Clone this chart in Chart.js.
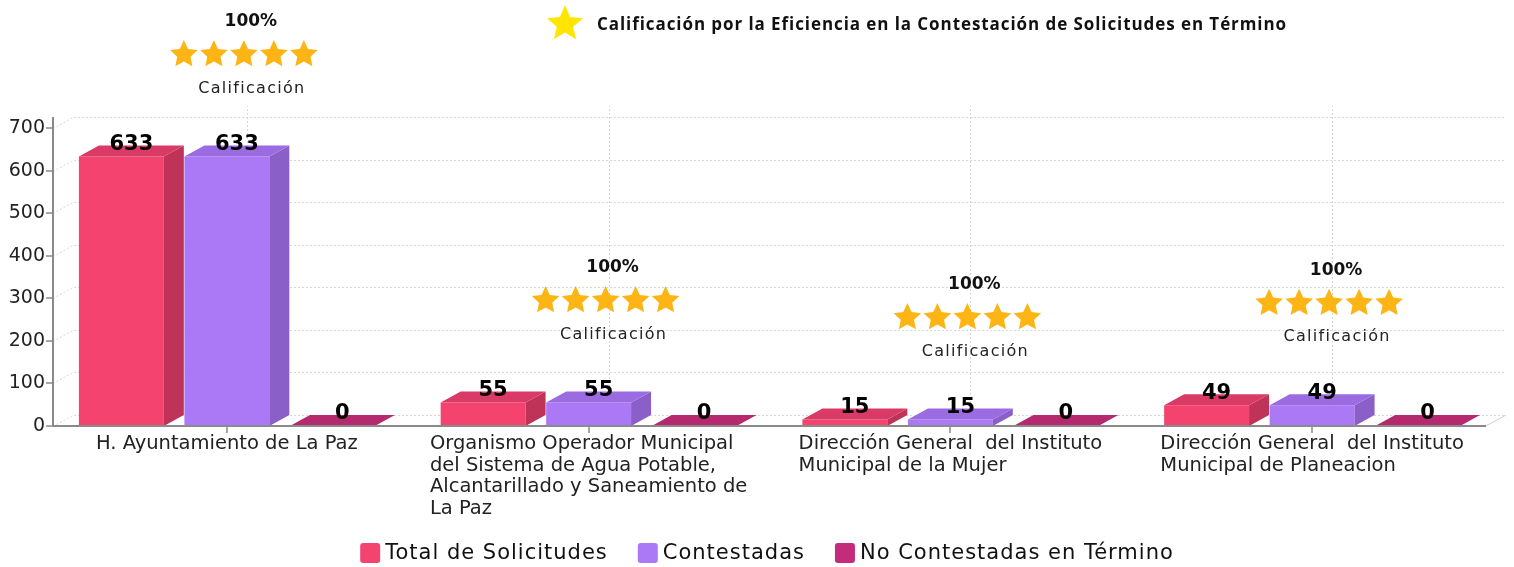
<!DOCTYPE html>
<html>
<head>
<meta charset="utf-8">
<script src="https://cdn.jsdelivr.net/npm/chart.js@4.4.1/dist/chart.umd.min.js"></script>
<style>
html,body{margin:0;padding:0;background:#fff;overflow:hidden}
#wrap{width:1514px;height:567px;position:relative}
</style>
</head>
<body>
<div id="wrap"><canvas id="c"></canvas></div>
<script>
// ---------- data ----------
const categories = [
  ["H. Ayuntamiento de La Paz"],
  ["Organismo Operador Municipal", "del Sistema de Agua Potable,", "Alcantarillado y Saneamiento de", "La Paz"],
  ["Dirección General  del Instituto", "Municipal de la Mujer"],
  ["Dirección General  del Instituto", "Municipal de Planeacion"]
];
const seriesNames = ["Total de Solicitudes", "Contestadas", "No Contestadas en Término"];
const totalSolicitudes = [633, 55, 15, 49];
const contestadas = [633, 55, 15, 49];
const noContestadas = [0, 0, 0, 0];
const ratingPercent = ["100%", "100%", "100%", "100%"];
const ratingStars = [5, 5, 5, 5];
const ratingCaption = "Calificación";
const titleText = "Calificación por la Eficiencia en la Contestación de Solicitudes en Término";
const yMin = 0, yMax = 726, yStep = 100;

// ---------- styles ----------
const FONT = '"DejaVu Sans", "Noto Sans", sans-serif';
const faces = [
  {front: '#F4436F', top: '#DA3A66', side: '#C03358', legend: '#F4436F'},
  {front: '#AB78F6', top: '#9B6BE2', side: '#8B5FC8', legend: '#AB78F6'},
  {front: '#C42B7A', top: '#B5296F', side: '#A0245F', legend: '#C42B7A'}
];
const DX = 20, DY = -11, INSET = 7;

function starPath(ctx, cx, cy, R, r) {
  ctx.beginPath();
  for (let k = 0; k < 10; k++) {
    const rad = k % 2 === 0 ? R : r;
    const ang = -Math.PI / 2 + k * Math.PI / 5;
    const px = cx + rad * Math.cos(ang), py = cy + rad * Math.sin(ang);
    if (k === 0) ctx.moveTo(px, py); else ctx.lineTo(px, py);
  }
  ctx.closePath();
}

const threeD = {
  id: 'threeD',
  beforeDatasetsDraw(chart) {
    const {ctx, chartArea: a, scales: {x, y}} = chart;
    const axL = a.left + INSET, axR = a.right - INSET, y0 = y.getPixelForValue(0);
    ctx.save();
    ctx.strokeStyle = '#d6d6d6';
    ctx.lineWidth = 1;
    ctx.setLineDash([2, 2]);
    y.ticks.forEach(t => {
      const py = Math.round(y.getPixelForValue(t.value)) + 0.5;
      ctx.beginPath();
      ctx.moveTo(axL, py);
      ctx.lineTo(axL + DX, py + DY);
      ctx.lineTo(axR + DX, py + DY);
      ctx.stroke();
    });
    x.ticks.forEach((t, i) => {
      const px = Math.round(x.getPixelForTick(i)) + 0.5 + DX;
      ctx.beginPath();
      ctx.moveTo(px, y0 + DY);
      ctx.lineTo(px, a.top + DY);
      ctx.stroke();
    });
    ctx.setLineDash([]);
    ctx.strokeStyle = '#cfcfcf';
    ctx.beginPath();
    ctx.moveTo(axR, y0);
    ctx.lineTo(axR + DX, y0 + DY);
    ctx.stroke();
    ctx.restore();
  },
  afterDatasetsDraw(chart) {
    const {ctx, chartArea: a, scales: {x, y}} = chart;
    const axL = a.left + INSET, axR = a.right - INSET, y0 = y.getPixelForValue(0);
    ctx.save();
    const labels = [];
    chart.data.datasets.forEach((ds, di) => {
      const meta = chart.getDatasetMeta(di);
      meta.data.forEach((el, i) => {
        const p = el.getProps(['x', 'y', 'base', 'width'], true);
        const l = p.x - p.width / 2, r = p.x + p.width / 2;
        const top = Math.min(p.y, p.base), base = Math.max(p.y, p.base);
        ctx.fillStyle = faces[di].side;
        ctx.beginPath();
        ctx.moveTo(r, top); ctx.lineTo(r + DX, top + DY);
        ctx.lineTo(r + DX, base + DY); ctx.lineTo(r, base);
        ctx.closePath(); ctx.fill();
        ctx.fillStyle = faces[di].top;
        ctx.beginPath();
        ctx.moveTo(l, top); ctx.lineTo(l + DX, top + DY);
        ctx.lineTo(r + DX, top + DY); ctx.lineTo(r, top);
        ctx.closePath(); ctx.fill();
        labels.push({x: p.x + DX / 2, y: top + DY - 1, v: ds.data[i]});
      });
    });
    ctx.strokeStyle = '#8a8a8a';
    ctx.lineWidth = 2;
    ctx.beginPath();
    ctx.moveTo(axL, a.top); ctx.lineTo(axL, y0 + 1);
    ctx.moveTo(axL - 1, y0); ctx.lineTo(axR, y0);
    ctx.stroke();
    ctx.lineWidth = 1.5;
    y.ticks.forEach(t => {
      const py = Math.round(y.getPixelForValue(t.value));
      ctx.beginPath(); ctx.moveTo(axL - 7, py); ctx.lineTo(axL, py); ctx.stroke();
    });
    x.ticks.forEach((t, i) => {
      const px = Math.round(x.getPixelForTick(i));
      ctx.beginPath(); ctx.moveTo(px, y0); ctx.lineTo(px, y0 + 7); ctx.stroke();
    });
    ctx.fillStyle = '#000';
    ctx.font = 'bold 21px ' + FONT;
    ctx.textAlign = 'center';
    ctx.textBaseline = 'middle';
    labels.forEach(lb => ctx.fillText(String(lb.v), lb.x, lb.y));
    ctx.restore();
  },
  afterDraw(chart) {
    const {ctx, chartArea: a, scales: {x, y}} = chart;
    const y0 = y.getPixelForValue(0);
    ctx.save();
    // category labels (block centred, lines left-aligned)
    ctx.fillStyle = '#222';
    ctx.font = '19.5px ' + FONT;
    ctx.textBaseline = 'middle';
    ctx.textAlign = 'left';
    categories.forEach((lines, i) => {
      const cx = x.getPixelForTick(i);
      const w = Math.max(...lines.map(s => ctx.measureText(s).width));
      lines.forEach((s, k) => ctx.fillText(s, cx - w / 2, y0 + 18 + k * 21.7));
    });
    // ratings
    categories.forEach((c, i) => {
      const cx = x.getPixelForTick(i) + DX;
      let top = y0;
      chart.data.datasets.forEach((ds, di) => {
        const el = chart.getDatasetMeta(di).data[i];
        top = Math.min(top, el.y);
      });
      const py = top - 135;
      ctx.fillStyle = '#111';
      ctx.textAlign = 'center';
      ctx.font = 'bold 17px ' + FONT;
      ctx.fillText(ratingPercent[i], cx + 4, py);
      ctx.fillStyle = '#FDB515';
      for (let s = 0; s < ratingStars[i]; s++) {
        starPath(ctx, cx - 3 + (s - 2) * 30, py + 33, 14.5, 7);
        ctx.fill();
      }
      ctx.fillStyle = '#222';
      ctx.font = '16px ' + FONT;
      ctx.letterSpacing = '1.3px';
      ctx.fillText(ratingCaption, cx + 5, py + 67);
      ctx.letterSpacing = '0px';
    });
    // title
    ctx.fillStyle = '#FFE500';
    starPath(ctx, 565, 24, 19, 8.5);
    ctx.fill();
    ctx.fillStyle = '#111';
    ctx.textAlign = 'left';
    let tfs = 15;
    ctx.font = 'bold ' + tfs + 'px "Open Sans", ' + FONT;
    tfs = tfs * 690 / ctx.measureText(titleText).width;
    ctx.font = 'bold ' + Math.min(tfs, 17) + 'px "Open Sans", ' + FONT;
    const tw = ctx.measureText(titleText).width;
    ctx.letterSpacing = Math.max(0, (690 - tw) / titleText.length) + 'px';
    ctx.fillText(titleText, 597, 25);
    ctx.letterSpacing = '0px';
    // legend
    ctx.font = '21px ' + FONT;
    ctx.letterSpacing = '1px';
    const gap = 30, bw = 20, tg = 5;
    const widths = seriesNames.map(s => ctx.measureText(s).width);
    const total = widths.reduce((s, w) => s + bw + tg + w, 0) + gap * (seriesNames.length - 1);
    let lx = 767 - total / 2;
    const ly = 553;
    seriesNames.forEach((s, i) => {
      ctx.fillStyle = faces[i].legend;
      ctx.beginPath();
      ctx.roundRect(lx, ly - 10, bw, bw, 3);
      ctx.fill();
      ctx.fillStyle = '#111';
      ctx.fillText(s, lx + bw + tg, ly + 1);
      lx += bw + tg + widths[i] + gap;
    });
    ctx.restore();
  }
};

const seriesValues = [totalSolicitudes, contestadas, noContestadas];

new Chart(document.getElementById('c'), {
  type: 'bar',
  data: {
    labels: categories,
    datasets: seriesNames.map((n, i) => ({
      label: n,
      data: seriesValues[i],
      backgroundColor: faces[i].front,
      borderWidth: 0,
      categoryPercentage: 0.875,
      barPercentage: 0.805
    }))
  },
  options: {
    responsive: true,
    maintainAspectRatio: false,
    animation: false,
    layout: {padding: {top: 117, right: 21, left: 0, bottom: 0}},
    plugins: {legend: {display: false}, tooltip: {enabled: false}, title: {display: false}},
    scales: {
      x: {
        grid: {display: false},
        border: {display: false},
        ticks: {display: false},
        afterFit(s) { s.height = 141; }
      },
      y: {
        min: yMin, max: yMax,
        grid: {display: false, drawTicks: false},
        border: {display: false},
        ticks: {stepSize: yStep, includeBounds: false, padding: 1, color: '#222', font: {family: FONT, size: 19}},
        afterFit(s) { s.width = 46; }
      }
    }
  },
  plugins: [threeD]
});
</script>
</body>
</html>
